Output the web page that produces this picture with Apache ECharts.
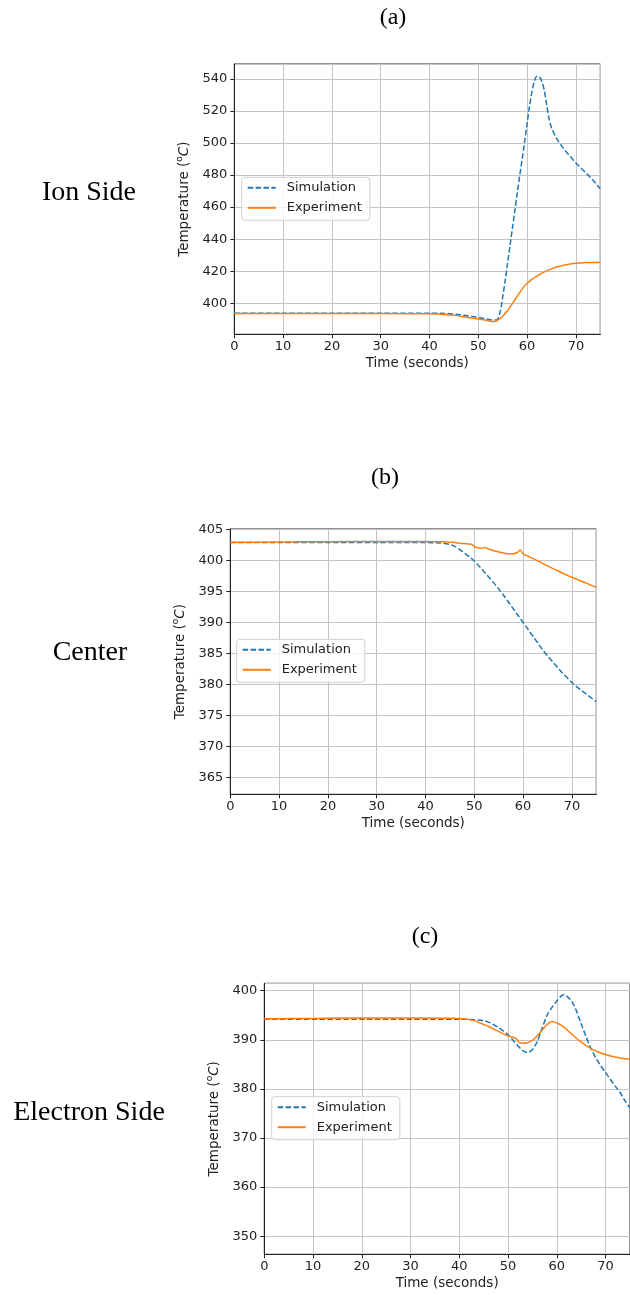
<!DOCTYPE html>
<html>
<head>
<meta charset="utf-8">
<script src="https://cdn.jsdelivr.net/npm/echarts@6/dist/echarts.min.js"></script>
<style>
html,body{margin:0;padding:0;background:#fff;}
#chart{width:630px;height:1295px;}
</style>
</head>
<body>
<div id="chart"></div>
<script>
// ---- Data ----
const panelTitles = ['(a)', '(b)', '(c)'];
const sideLabels = ['Ion Side', 'Center', 'Electron Side'];
const seriesNames = ['Simulation', 'Experiment'];
const xTicks = [0, 10, 20, 30, 40, 50, 60, 70];

// (a) Ion Side
const ionSimT = [0,10,20,30,40,43,45,47,49,51,53,53.8,54.5,55,55.5,56,56.5,57,57.5,58,58.5,59,59.5,60,60.5,61,61.5,62,62.5,63,63.5,64,64.5,65,66,67,68,69,70,71,72,73,74,75];
const ionSimV = [393.8,393.8,393.8,393.8,393.8,393.7,393.3,392.6,391.7,390.7,389.6,389.7,395,404,414,425,436,447,458,469,480,490,501,512,523,532,538.5,541.5,541.3,538.5,533,524,515,509.5,503,498.5,494.5,491,487.5,484.5,481.5,478.5,475,471.5];
const ionExpT = [0,10,20,30,40,43,45,47,49,51,52.5,53.2,54,55,56,57,58,59,60,61,62,63,64,65,66,67,68,70,72,73,75];
const ionExpV = [393.6,393.6,393.6,393.6,393.5,393.1,392.5,391.6,390.7,389.8,388.9,388.6,389.5,392,395.5,400,404.5,409,412.5,415,417,418.8,420.2,421.5,422.6,423.4,424.1,425,425.4,425.5,425.4];

// (b) Center
const cenSimT = [0,10,20,30,40,43,45,46,47,48,49,50,51,52,53,54,55,56,57,58,59,60,61,62,63,64,65,66,67,68,69,70,71,72,73,74,75];
const cenSimV = [402.9,402.9,402.9,402.9,402.9,402.85,402.6,402.3,401.8,401.2,400.6,399.9,399.1,398.2,397.3,396.4,395.4,394.4,393.3,392.2,391.1,390.0,388.9,387.8,386.7,385.6,384.6,383.7,382.8,381.9,381.1,380.3,379.6,379.0,378.4,377.8,377.2];
const cenExpT = [0,10,20,30,40,44,46,48,49.5,50,50.5,51.5,52.2,52.8,54,55.5,57,58,58.8,59.4,60,61,62,63,64,65,66,67,68,69,70,71,72,73,74,75];
const cenExpV = [402.95,403.0,403.05,403.1,403.1,403.05,402.9,402.75,402.6,402.3,402.1,402.0,402.1,401.9,401.6,401.3,401.1,401.1,401.3,401.7,401.1,400.7,400.35,399.95,399.55,399.15,398.75,398.4,398.0,397.65,397.3,397.0,396.65,396.35,396.0,395.7];

// (c) Electron Side
const eleSimT = [0,10,20,30,40,43,45,46,47,48,49,50,51,52,53,54,55,56,57,58,59,60,61,61.6,62,63,64,65,66,67,68,69,70,71,72,73,74,75];
const eleSimV = [394.2,394.2,394.2,394.2,394.2,394.1,393.9,393.6,393.1,392.5,391.8,391.0,389.9,388.8,387.8,387.4,388.0,389.7,392.4,395.0,396.6,397.9,399.0,399.2,398.9,397.9,395.9,393.2,390.6,388.2,386.3,384.7,383.3,381.9,380.5,379.2,377.5,376.1];
const eleExpT = [0,10,20,30,40,42,43,44,45,46,47,48,49,50,51,51.7,52.3,53,54,55,56,57,58,59,60,61,62,63,64,65,66,67,68,69,70,71,72,73,74,75];
const eleExpV = [394.3,394.35,394.45,394.45,394.35,394.1,393.9,393.5,393.1,392.7,392.2,391.7,391.2,390.8,390.5,390.2,389.4,389.3,389.4,389.9,390.8,392.0,393.1,393.7,393.4,392.9,392.1,391.2,390.3,389.5,388.8,388.2,387.7,387.3,387.0,386.7,386.5,386.3,386.15,386.0];

// Axis ranges
const yMins = [380.7, 362.25, 346.3];
const yMaxs = [549.2, 405.1, 401.5];
const yIntervals = [20, 5, 10];
const xMin = 0, xMax = 75;

// ---- Build ----
const zip = (t, v) => t.map((x, i) => [x, v[i]]);
const panels = [
  [zip(ionSimT, ionSimV), zip(ionExpT, ionExpV)],
  [zip(cenSimT, cenSimV), zip(cenExpT, cenExpV)],
  [zip(eleSimT, eleSimV), zip(eleExpT, eleExpV)]
];

const grids = [
  {left: 234.3, top: 64, width: 366, height: 270.3},
  {left: 230.3, top: 529, width: 366, height: 265.3},
  {left: 264.3, top: 983.3, width: 366, height: 271}
];
const legendPos = [
  {left: 241.7, top: 177.3},
  {left: 236.7, top: 639.3},
  {left: 271.7, top: 1096.7}
];
const titlePos = [[393, 18], [385, 478], [425, 937]];
const sidePos = [[89, 193], [90, 653], [89, 1113]];

const sans = '"DejaVu Sans", sans-serif';
const serif = '"Liberation Serif", "DejaVu Serif", serif';
const axisColor = '#222';

const option = {
  backgroundColor: '#fff',
  animation: false,
  grid: grids.map(g => Object.assign({show: true, borderColor: axisColor, borderWidth: 1, backgroundColor: 'transparent'}, g)),
  xAxis: grids.map((g, i) => ({
    type: 'value', gridIndex: i, min: xMin, max: xMax,
    minInterval: 10, maxInterval: 10,
    name: 'Time (seconds)', nameLocation: 'middle', nameGap: 22,
    nameTextStyle: {fontFamily: sans, fontSize: 13.5, color: axisColor},
    axisLine: {show: true, onZero: false, lineStyle: {color: axisColor, width: 1}},
    axisTick: {show: true, inside: false, length: 4, lineStyle: {color: axisColor}},
    axisLabel: {fontFamily: sans, fontSize: 13, color: axisColor, margin: 6, showMaxLabel: false},
    splitLine: {show: true, lineStyle: {color: '#c4c4c4', width: 1}}
  })),
  yAxis: grids.map((g, i) => ({
    type: 'value', gridIndex: i, min: yMins[i], max: yMaxs[i],
    minInterval: yIntervals[i], maxInterval: yIntervals[i],
    name: '{n|Temperature (}{sup|o}{it|C}{n|)}', nameLocation: 'middle', nameGap: 36, nameRotate: 90,
    nameTextStyle: {
      fontFamily: sans, fontSize: 13.5, color: axisColor,
      rich: {
        n: {fontFamily: sans, fontSize: 13.5, color: axisColor},
        sup: {fontFamily: sans, fontSize: 9, color: axisColor, verticalAlign: 'top', padding: [0, 0, 10, 0]},
        it: {fontFamily: sans, fontSize: 13.5, fontStyle: 'italic', color: axisColor}
      }
    },
    axisLine: {show: true, onZero: false, lineStyle: {color: axisColor, width: 1}},
    axisTick: {show: true, inside: false, length: 4, lineStyle: {color: axisColor}},
    axisLabel: {fontFamily: sans, fontSize: 13, color: axisColor, margin: 7, showMinLabel: false, showMaxLabel: false},
    splitLine: {show: true, lineStyle: {color: '#c4c4c4', width: 1}}
  })),
  legend: legendPos.map(p => ({
    left: p.left, top: p.top, orient: 'vertical',
    data: seriesNames,
    itemWidth: 28, itemHeight: 14, itemGap: 7,
    padding: [4, 8, 6, 5],
    backgroundColor: 'rgba(255,255,255,0.8)',
    borderColor: '#d0d0d0', borderWidth: 1, borderRadius: 3,
    selectedMode: false,
    itemStyle: {opacity: 0, color: 'transparent', borderWidth: 0},
    textStyle: {fontFamily: sans, fontSize: 13, color: axisColor, padding: [0, 0, 0, 6]}
  })),
  series: [],
  graphic: []
};

panels.forEach((p, i) => {
  option.series.push({
    name: seriesNames[0], type: 'line', xAxisIndex: i, yAxisIndex: i,
    data: p[0], symbol: 'none', smooth: 0.3,
    lineStyle: {color: '#1f77b4', width: 1.5, type: [5.5, 2.4]},
    itemStyle: {color: '#1f77b4'}, z: 2
  });
  option.series.push({
    name: seriesNames[1], type: 'line', xAxisIndex: i, yAxisIndex: i,
    data: p[1], symbol: 'none', smooth: 0.3,
    lineStyle: {color: '#ff7f0e', width: 1.5},
    itemStyle: {color: '#ff7f0e'}, z: 3
  });
  option.graphic.push({
    type: 'text', x: titlePos[i][0], y: titlePos[i][1],
    style: {text: panelTitles[i], font: '24px ' + serif, fill: '#000', textAlign: 'center', textVerticalAlign: 'middle'}
  });
  option.graphic.push({
    type: 'text', x: sidePos[i][0], y: sidePos[i][1],
    style: {text: sideLabels[i], font: '28px ' + serif, fill: '#000', textAlign: 'center', textVerticalAlign: 'middle'}
  });
});

const chart = echarts.init(document.getElementById('chart'), null, {renderer: 'canvas'});
chart.setOption(option);
</script>
</body>
</html>
